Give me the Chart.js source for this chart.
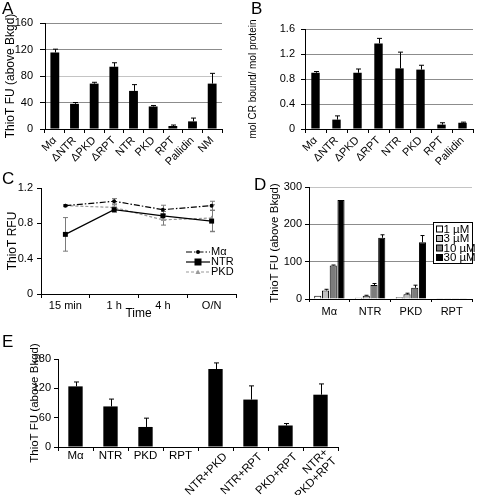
<!DOCTYPE html>
<html><head><meta charset="utf-8">
<script src="https://cdn.jsdelivr.net/npm/chart.js@4/dist/chart.umd.min.js"></script>
<style>
html,body{margin:0;padding:0;background:#fff}
body{width:477px;height:495px;position:relative;overflow:hidden;font-family:"Liberation Sans",Arial,sans-serif}
canvas{position:absolute}
.lab{position:absolute;font-size:17px;line-height:17px;color:#000}
</style></head><body>
<canvas id="cA" width="240" height="165" style="left:0;top:0"></canvas>
<canvas id="cB" width="237" height="165" style="left:240px;top:0"></canvas>
<canvas id="cC" width="240" height="155" style="left:0;top:165px"></canvas>
<canvas id="cD" width="237" height="155" style="left:240px;top:165px"></canvas>
<canvas id="cE" width="477" height="175" style="left:0;top:320px"></canvas>
<div class="lab" style="left:2px;top:0px">A</div>
<div class="lab" style="left:251px;top:0px">B</div>
<div class="lab" style="left:2px;top:170px">C</div>
<div class="lab" style="left:254px;top:176px">D</div>
<div class="lab" style="left:2px;top:333px">E</div>
<script>
// ---------- DATA ----------
const catsA = ['M\u03b1','\u0394NTR','\u0394PKD','\u0394RPT','NTR','PKD','RPT','Pallidin','NM'];
const valsA = [115.5, 38, 68.5, 94, 57.5, 34, 4.5, 11.5, 68.5];
const errA  = [5, 2, 2, 6, 9.5, 1.5, 1.5, 5, 15.5];

const catsB = ['M\u03b1','\u0394NTR','\u0394PKD','\u0394RPT','NTR','PKD','RPT','Pallidin'];
const valsB = [0.90, 0.15, 0.90, 1.37, 0.97, 0.95, 0.07, 0.10];
const errB  = [0.02, 0.06, 0.06, 0.08, 0.26, 0.07, 0.03, 0.01];

const timesC = ['15 min','1 h','4 h','O/N'];
const maC  = [1.00, 1.05, 0.955, 1.00];
const errMaC = [0.01, 0.03, 0.05, 0.05];
const ntrC = [0.675, 0.955, 0.885, 0.825];
const errNtrC = [0.19, 0.03, 0.05, 0.12];
const pkdC = [1.00, 0.98, 0.84, 0.86];
const errPkdC = [0.01, 0.03, 0.06, 0.15];

const catsD = ['M\u03b1','NTR','PKD','RPT'];
const seriesD = ['1 \u00b5M','3 \u00b5M','10 \u00b5M','30 \u00b5M'];
const d1  = [9, 3.5, 5, 2];
const d3  = [23, 9, 12.5, 2];
const d10 = [90, 37.5, 30, 1];
const d30 = [265, 164, 152, 1];
const e1  = [0, 0, 0, 0];
const e3  = [3, 1, 3, 0];
const e10 = [1, 4, 7, 0];
const e30 = [0, 8, 18, 0];

const catsE = ['M\u03b1','NTR','PKD','RPT','NTR+PKD','NTR+RPT','PKD+RPT',['NTR+','PKD+RPT']];
const valsE = [124, 83, 41, 0, 159.5, 97, 44, 107];
const errE  = [9, 15, 18, 0, 12.5, 28, 4, 22];

// ---------- SETUP ----------
const FONT = '"Liberation Sans", Arial, sans-serif';
Chart.defaults.font.family = FONT;
Chart.defaults.color = '#000';
Chart.defaults.animation = false;
Chart.defaults.plugins.legend.display = false;
Chart.defaults.plugins.tooltip.enabled = false;

const errorBars = {
  id: 'errorBars',
  beforeDatasetsDraw(chart) { draw(chart, true); },
  afterDatasetsDraw(chart) { draw(chart, false); }
};
function draw(chart, before) {
  const ctx = chart.ctx, ys = chart.scales.y;
  chart.data.datasets.forEach((ds, i) => {
    if (!ds.errors || !!ds.errorBoth !== before) return;
    const meta = chart.getDatasetMeta(i);
    ctx.save();
    ctx.strokeStyle = ds.errorColor || '#000';
    ctx.lineWidth = 1;
    const cap = ds.errorCap || 2.5;
    meta.data.forEach((el, j) => {
      const e = ds.errors[j];
      if (!e) return;
      const v = ds.data[j];
      const x = Math.round(el.x) + 0.5;
      const yHi = ys.getPixelForValue(v + e);
      const yLo = ds.errorBoth ? ys.getPixelForValue(v - e) : el.y;
      ctx.beginPath();
      ctx.moveTo(x, yLo); ctx.lineTo(x, yHi);
      ctx.moveTo(x - cap, yHi); ctx.lineTo(x + cap, yHi);
      if (ds.errorBoth) { ctx.moveTo(x - cap, yLo); ctx.lineTo(x + cap, yLo); }
      ctx.stroke();
    });
    ctx.restore();
  });
}
Chart.register(errorBars);

function yScale(o) {
  return {
    min: o.min, max: o.max,
    ticks: { stepSize: o.step, font: { size: 11 }, padding: o.tickPad ?? 3, color: '#000',
             callback: v => String(+Number(v).toFixed(2)) },
    grid: { drawOnChartArea: !!o.gridFn, color: o.gridFn || '#000', tickColor: '#000',
            tickLength: o.tickLen ?? 4, lineWidth: 1 },
    border: { display: true, color: '#000', width: 1 },
    title: { display: true, text: o.title, color: '#000', font: { size: o.titleSize ?? 12, lineHeight: 1.2 },
             padding: { top: o.titlePad ?? 0, bottom: 0 } },
    afterFit(s) { s.width = o.width; }
  };
}
function xScale(o) {
  return {
    offset: true,
    ticks: { display: o.showTicks !== false, font: { size: 11 }, color: '#000', autoSkip: false,
             minRotation: o.rot || 0, maxRotation: o.rot || 0, padding: o.tickPad ?? 2,
             labelOffset: o.labelOffset || 0 },
    grid: { offset: true, drawOnChartArea: false, tickColor: '#000', tickLength: o.tickLen ?? 4, color: '#000' },
    border: { display: true, color: '#000', width: 1 },
    title: o.title ? { display: true, text: o.title, color: '#000', font: { size: 12, lineHeight: 1 },
                       padding: { top: 0, bottom: 0 } } : { display: false },
    afterFit(s) { s.height = o.height; }
  };
}
const gridAB = c => (c.tick && c.tick.value === 80) ? '#c4c4c4' : '#8c8c8c';
const gridB = c => '#8c8c8c';
const gridD = c => (c.tick && c.tick.value === 300) ? '#c4c4c4' : '#8c8c8c';

// ---------- A ----------
new Chart(document.getElementById('cA'), {
  type: 'bar',
  data: { labels: catsA, datasets: [{ data: valsA, errors: errA, backgroundColor: '#000',
          barPercentage: 0.45, categoryPercentage: 1 }] },
  options: {
    responsive: false,
    layout: { padding: { left: 0, top: 23, right: 18, bottom: 0 } },
    scales: {
      x: xScale({ rot: 45, height: 36, tickLen: 4, tickPad: 1 }),
      y: yScale({ min: 0, max: 160, step: 40, width: 45, title: 'ThioT FU (above Bkgd)', titlePad: 3,
                  tickLen: 5, tickPad: 7, gridFn: gridAB })
    }
  }
});

// ---------- B ----------
new Chart(document.getElementById('cB'), {
  type: 'bar',
  data: { labels: catsB, datasets: [{ data: valsB, errors: errB, backgroundColor: '#000',
          barPercentage: 0.4, categoryPercentage: 1 }] },
  options: {
    responsive: false,
    layout: { padding: { left: 7, top: 29, right: 4, bottom: 0 } },
    scales: {
      x: xScale({ rot: 45, height: 36, tickLen: 4, tickPad: 1 }),
      y: yScale({ min: 0, max: 1.6, step: 0.4, width: 58, title: 'mol CR bound/ mol protein', titleSize: 10,
                  tickLen: 4, tickPad: 6, gridFn: gridB })
    }
  }
});

// ---------- C ----------
const legendC = {
  id: 'legendC',
  afterDraw(chart) {
    const { ctx, chartArea: a } = chart;
    chart.data.datasets.forEach((ds, i) => {
      const y = a.top + 64 + i * 10;
      const x0 = a.right - 50, x1 = a.right - 26;
      ctx.save();
      ctx.strokeStyle = ds.borderColor; ctx.lineWidth = ds.borderWidth;
      ctx.setLineDash(ds.borderDash || []);
      ctx.beginPath(); ctx.moveTo(x0, y); ctx.lineTo(x1, y); ctx.stroke();
      ctx.setLineDash([]);
      const cx = (x0 + x1) / 2, r = ds.pointRadius;
      ctx.fillStyle = ds.pointBackgroundColor;
      ctx.beginPath();
      if (ds.pointStyle === 'rect') ctx.rect(cx - r, y - r, 2 * r, 2 * r);
      else if (ds.pointStyle === 'triangle') { ctx.moveTo(cx, y - r); ctx.lineTo(cx + r, y + r * 0.8); ctx.lineTo(cx - r, y + r * 0.8); ctx.closePath(); }
      else ctx.arc(cx, y, r, 0, Math.PI * 2);
      ctx.fill();
      ctx.fillStyle = '#000';
      ctx.font = '11px ' + FONT;
      ctx.textBaseline = 'middle'; ctx.textAlign = 'left';
      ctx.fillText(ds.label, x1 + 1, y);
      ctx.restore();
    });
  }
};
new Chart(document.getElementById('cC'), {
  type: 'line',
  data: { labels: timesC, datasets: [
    { label: 'M\u03b1', data: maC, errors: errMaC, errorBoth: true, errorColor: '#7a7a7a',
      borderColor: '#000', borderWidth: 1.2, borderDash: [6, 2, 1.5, 2], pointStyle: 'circle', pointRadius: 2,
      pointBackgroundColor: '#000', pointBorderColor: '#000', pointBorderWidth: 0, fill: false, tension: 0 },
    { label: 'NTR', data: ntrC, errors: errNtrC, errorBoth: true, errorColor: '#7a7a7a',
      borderColor: '#000', borderWidth: 1.2, borderDash: [], pointStyle: 'rect', pointRadius: 3.5,
      pointBackgroundColor: '#000', pointBorderColor: '#000', pointBorderWidth: 0, fill: false, tension: 0 },
    { label: 'PKD', data: pkdC, errors: errPkdC, errorBoth: true, errorColor: '#7a7a7a',
      borderColor: '#9a9a9a', borderWidth: 1.2, borderDash: [3, 2], pointStyle: 'triangle', pointRadius: 2.5,
      pointBackgroundColor: '#9a9a9a', pointBorderColor: '#9a9a9a', pointBorderWidth: 0, fill: false, tension: 0 }
  ] },
  options: {
    responsive: false,
    layout: { padding: { left: 0, top: 23, right: 3, bottom: 0 } },
    scales: {
      x: xScale({ height: 26, tickLen: 4, tickPad: 1, title: 'Time' }),
      y: yScale({ min: 0, max: 1.2, step: 0.4, width: 41, title: 'ThioT RFU', titlePad: 5, tickLen: 4, tickPad: 4 })
    }
  },
  plugins: [legendC]
});

// ---------- D ----------
const legendD = {
  id: 'legendD',
  afterDraw(chart) {
    const { ctx, chartArea: a } = chart;
    const bx = a.right - 38.5, by = a.top + 35.5, bw = 39, bh = 41;
    ctx.save();
    ctx.fillStyle = '#fff'; ctx.fillRect(bx, by, bw, bh);
    ctx.strokeStyle = '#000'; ctx.lineWidth = 1; ctx.strokeRect(bx, by, bw, bh);
    ctx.font = '11.5px ' + FONT; ctx.textBaseline = 'middle'; ctx.textAlign = 'left';
    chart.data.datasets.forEach((ds, i) => {
      const y = by + 6.5 + i * 9.5;
      ctx.fillStyle = ds.backgroundColor;
      ctx.fillRect(bx + 3, y - 3, 6, 6);
      ctx.strokeStyle = '#000'; ctx.strokeRect(bx + 3, y - 3, 6, 6);
      ctx.fillStyle = '#000';
      ctx.fillText(ds.label, bx + 10, y + 0.5);
    });
    ctx.restore();
  }
};
const dsD = (label, data, errors, color) => ({ label, data, errors, backgroundColor: color,
  borderColor: '#000', borderWidth: 1, barPercentage: 0.92, categoryPercentage: 0.76, errorCap: 2 });
new Chart(document.getElementById('cD'), {
  type: 'bar',
  data: { labels: catsD, datasets: [
    dsD(seriesD[0], d1, e1, '#ffffff'),
    dsD(seriesD[1], d3, e3, '#c0c0c0'),
    dsD(seriesD[2], d10, e10, '#7c7c7c'),
    dsD(seriesD[3], d30, e30, '#000000')
  ] },
  options: {
    responsive: false,
    layout: { padding: { left: 28, top: 22, right: 5, bottom: 0 } },
    scales: {
      x: xScale({ height: 21, tickLen: 3, tickPad: 3 }),
      y: yScale({ min: 0, max: 300, step: 100, width: 41, title: 'ThioT FU (above Bkgd)', titleSize: 11.5,
                  tickLen: 4, tickPad: 3, gridFn: gridD })
    }
  },
  plugins: [legendD]
});

// ---------- E ----------
const labelsE = {
  id: 'labelsE',
  afterDraw(chart) {
    const { ctx, chartArea: a } = chart;
    const xs = chart.scales.x;
    ctx.save();
    ctx.fillStyle = '#000';
    ctx.font = '11.5px ' + FONT;
    chart.data.labels.forEach((lab, i) => {
      const x = xs.getPixelForValue(i);
      if (i < 4) {
        ctx.textAlign = 'center'; ctx.textBaseline = 'middle';
        ctx.fillText(lab, x, a.bottom + 9);
      } else {
        const lines = Array.isArray(lab) ? lab : [lab];
        ctx.save();
        ctx.translate(x + 10, a.bottom + 8);
        ctx.rotate(-Math.PI / 4);
        ctx.textAlign = 'right'; ctx.textBaseline = 'middle';
        lines.forEach((ln, k) => ctx.fillText(ln, 0, (k - (lines.length - 1) / 2) * 12));
        ctx.restore();
      }
    });
    ctx.restore();
  }
};
new Chart(document.getElementById('cE'), {
  type: 'bar',
  data: { labels: catsE, datasets: [{ data: valsE, errors: errE, backgroundColor: '#000',
          barPercentage: 0.41, categoryPercentage: 1 }] },
  options: {
    responsive: false,
    layout: { padding: { left: 28, top: 39, right: 139, bottom: 0 } },
    scales: {
      x: xScale({ height: 48, tickLen: 4, showTicks: false }),
      y: yScale({ min: 0, max: 180, step: 60, width: 30, title: 'ThioT FU (above Bkgd)', titleSize: 11.5,
                  tickLen: 4, tickPad: 3 })
    }
  },
  plugins: [labelsE]
});
</script>
</body></html>
